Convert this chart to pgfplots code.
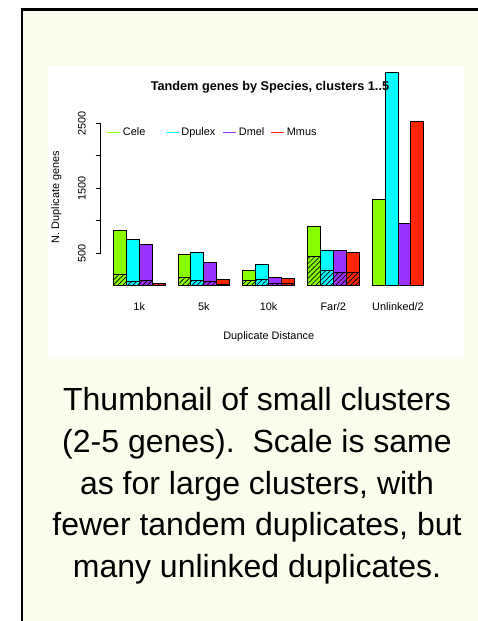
\documentclass[border=0pt]{standalone}
\usepackage{fontspec}
\setmainfont{Liberation Sans}
\usepackage{pgfplots}
\pgfplotsset{compat=1.18}
\usetikzlibrary{patterns.meta}
\definecolor{bgy}{HTML}{FBFDEC}
\definecolor{celec}{HTML}{88FC00}
\definecolor{dpulc}{HTML}{00FFFF}
\definecolor{dmelc}{HTML}{9A33FF}
\definecolor{mmusc}{HTML}{FF2600}
\tikzset{hatch/.style={pattern={Lines[angle=45,distance=3.5pt,line width=0.7pt]},pattern color=black}}
\begin{document}
\begin{tikzpicture}
\begin{scope}[x=1pt,y=1pt,shift={(-100.9pt,285.8pt)}]
\useasboundingbox (0,0) rectangle (478,-621);
\fill[white] (0,0) rectangle (478,-621);
\fill[bgy] (22,-9.7) rectangle (478,-621);
\draw[line width=2.5pt, line cap=rect] (22,-621) -- (22,-9.7) -- (478,-9.7);
\fill[white] (48,-66) rectangle (464,-357);
\node[align=center, font=\fontsize{32}{41.7}\selectfont, anchor=center] at (257,-486)
 {Thumbnail of small clusters\\(2-5 genes).\ \ Scale is same\\as for large clusters, with\\fewer tandem duplicates, but\\many unlinked duplicates.};
\end{scope}
\begin{axis}[
  scale only axis, width=335.4pt, height=214.6pt,
  xmin=0.04, xmax=25.96, ymin=0, ymax=3300, clip=false,
  axis lines*=left, axis line style={draw=none},
  xtick={3,8,13,18,23}, xticklabels={1k,5k,10k,Far/2,Unlinked/2},
  xtick style={draw=none},
  ytick={500,1000,1500,2000,2500}, yticklabels={500,,1500,,2500},
  ytick align=outside, major tick length=5pt,
  ytick style={black, line width=0.8pt},
  /pgf/number format/assume math mode=true,
  tick label style={font=\fontsize{10.9}{13}\selectfont},
  yticklabel style={rotate=90, anchor=south, inner sep=0pt, yshift=10pt},
  xticklabel style={yshift=-13pt},
  label style={font=\fontsize{10.9}{13}\selectfont},
  xlabel={Duplicate Distance},
  xlabel style={at={(axis description cs:0.5003,-0.238)}, anchor=center},
  ylabel={N. Duplicate genes},
  ylabel style={at={(axis description cs:-0.1333,0.414)}, anchor=center},
  title={Tandem genes by Species, clusters 1..5},
  title style={at={(axis description cs:0.504,0.897)}, anchor=center, font=\bfseries\fontsize{12.7}{15}\selectfont},
  legend columns=4,
  legend image code/.code={\draw[#1, line width=1pt] (0pt,0pt) -- (13pt,0pt);},
  legend style={draw=none, fill=none, font=\fontsize{10.9}{13}\selectfont,
    at={(axis description cs:0.0173,0.7134)}, anchor=west, inner sep=0pt,
    /tikz/every odd column/.append style={column sep=0pt}},
  legend cell align=left,
]
\addlegendimage{draw=celec}\addlegendentry{\makebox[40.5pt][l]{Cele}}
\addlegendimage{draw=dpulc}\addlegendentry{\makebox[39.5pt][l]{Dpulex}}
\addlegendimage{draw=dmelc}\addlegendentry{\makebox[30pt][l]{Dmel}}
\addlegendimage{draw=mmusc}\addlegendentry{Mmus}
% full bars
\addplot[ybar, bar width=1, bar shift=0pt, fill=celec, draw=black, line width=1pt, forget plot] coordinates {(1.5,853) (6.5,484) (11.5,234) (16.5,910) (21.5,1320)};
\addplot[ybar, bar width=1, bar shift=0pt, fill=dpulc, draw=black, line width=1pt, forget plot] coordinates {(2.5,711) (7.5,515) (12.5,326) (17.5,541) (22.5,3284)};
\addplot[ybar, bar width=1, bar shift=0pt, fill=dmelc, draw=black, line width=1pt, forget plot] coordinates {(3.5,638) (8.5,357) (13.5,131) (18.5,541) (23.5,951)};
\addplot[ybar, bar width=1, bar shift=0pt, fill=mmusc, draw=black, line width=1pt, forget plot] coordinates {(4.5,40) (9.5,95) (14.5,115) (19.5,511) (24.5,2530)};
% tandem (hatched) parts
\addplot[ybar, bar width=1, bar shift=0pt, hatch, draw=black, line width=1pt, forget plot] coordinates {(1.5,172) (6.5,135) (11.5,89) (16.5,443)};
\addplot[ybar, bar width=1, bar shift=0pt, hatch, draw=black, line width=1pt, forget plot] coordinates {(2.5,65) (7.5,80) (12.5,95) (17.5,238)};
\addplot[ybar, bar width=1, bar shift=0pt, hatch, draw=black, line width=1pt, forget plot] coordinates {(3.5,80) (8.5,65) (13.5,43) (18.5,203)};
\addplot[ybar, bar width=1, bar shift=0pt, hatch, draw=black, line width=1pt, forget plot] coordinates {(4.5,38) (9.5,23) (14.5,28) (19.5,208)};
\draw[line width=0.8pt] (axis cs:0.04,500) -- (axis cs:0.04,2500);
\end{axis}
\end{tikzpicture}
\end{document}
